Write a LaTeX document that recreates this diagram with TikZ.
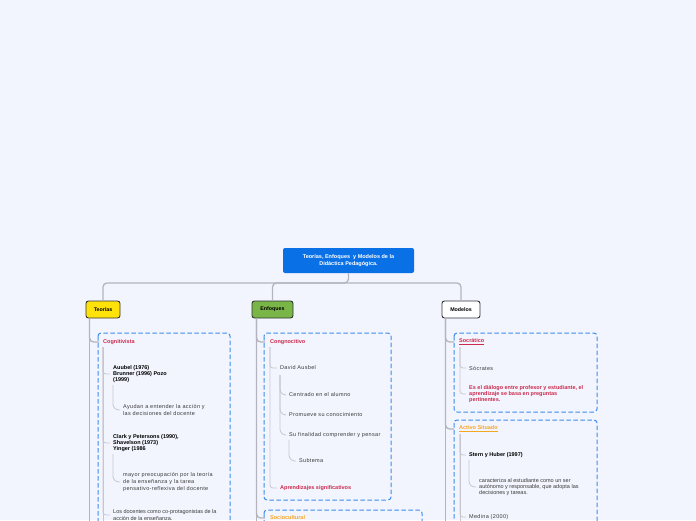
\documentclass[tikz,border=0pt]{standalone}
\usepackage{fontspec}
\setmainfont{Liberation Sans}
\newfontfamily\spacedfont[LetterSpace=6]{Liberation Sans}
\usetikzlibrary{positioning,calc}
\definecolor{paper}{HTML}{F3F5FE}
\definecolor{rootblue}{HTML}{0A70E6}
\definecolor{teoyellow}{HTML}{FFE20A}
\definecolor{enfgreen}{HTML}{7AB547}
\definecolor{crimson}{HTML}{CC2A4E}
\definecolor{amber}{HTML}{F5A623}
\definecolor{dashblue}{HTML}{3C8DEB}
\definecolor{trunkgrey}{HTML}{B4B4BE}
\definecolor{linkgrey}{HTML}{C6C6CE}
\definecolor{ink}{HTML}{3A3A3A}
\tikzset{
  % nodos
  root/.style={fill=rootblue,text=white,rounded corners=2pt,inner sep=0pt,
               minimum width=131pt,minimum height=25pt,align=center,
               font=\fontsize{5.5}{6.2}\selectfont\bfseries},
  topic/.style={draw=black!80,line width=0.9pt,rounded corners=2.5pt,inner sep=0pt,
                minimum height=17pt,font=\fontsize{5.3}{6}\selectfont\bfseries},
  txt/.style={anchor=west,inner xsep=3pt,inner ysep=0pt,align=left,text=ink,
              font=\spacedfont\fontsize{5.5}{6.6}\selectfont},
  txtn/.style={txt,font=\fontsize{5.5}{6.4}\selectfont},
  hd/.style={txt,text=black,font=\fontsize{5.5}{6.4}\selectfont\bfseries},
  grp/.style={draw=dashblue,line width=1pt,dash pattern=on 4.5pt off 2.5pt,
              rounded corners=3pt},
  % lineas
  trunk/.style={draw=trunkgrey,line width=1.3pt,rounded corners=4pt},
  link/.style={draw=linkgrey,line width=0.8pt,rounded corners=3pt},
  curl/.style={link,rounded corners=6pt},
}
\begin{document}
\begin{tikzpicture}[x=1pt,y=-1pt]
  \useasboundingbox (0,0) rectangle (696,520);
  \fill[paper] (0,0) rectangle (696,520);
  \clip (0,0) rectangle (696,520);
  % grupos
  \draw[grp] (98,333) rectangle (230,535);
  \draw[grp] (264,333) rectangle (391,500);
  \draw[grp] (264,510) rectangle (422,535);
  \draw[grp] (454,333) rectangle (597,412);
  \draw[grp] (454,420) rectangle (597,535);
  % raiz y ramas
  \node[root] (root) at (348.5,260.5) {Teorías, Enfoques\ \ y Modelos de la\\Didáctica Pedagógica.};
  \node[topic,fill=teoyellow,minimum width=34pt] (teo) at (103,309.5) {Teorías};
  \node[topic,fill=enfgreen,minimum width=41pt] (enf) at (272.5,309.5) {Enfoques};
  \node[topic,fill=white,minimum width=38pt] (mod) at (461,309.5) {Modelos};
  \coordinate (hub) at (348.5,283);
  \draw[trunk] (root) -- (hub) -| (teo);
  \draw[trunk] (hub) -| (enf);
  \draw[trunk] (hub) -| (mod);
  % Teorias
  \coordinate (teoT) at ($(teo.south west)+(4,0)$);
  \draw[trunk] (teoT) -- (teoT |- 0,535);
  \node[hd,text=crimson,inner xsep=4pt] (cog) at (99,342) {Cognitivista};
  \draw[trunk] (teoT) |- (cog.west);
  \coordinate (cogT) at (103,347);
  \draw[link] (cogT) -- (103,535);
  \node[hd] (aus) at (110,374) {Auubel (1976)\\Brunner (1996) Pozo\\(1999)};
  \node[txt] (ayu) at (120,410) {Ayudan a entender la acción y\\las decisiones del docente};
  \node[hd] (cla) at (110,443) {Clark y Petersons (1990),\\Shavelson (1973)\\Yinger (1986};
  \node[txt] (may) at (120,482) {mayor preocupación por la teoría\\de la enseñanza y la tarea\\pensativo-reflexiva del docente};
  \node[txtn] (doc) at (110,515) {Los docentes como co-protagonistas de la\\acción de la enseñanza.};
  \draw[link] (cogT) |- (aus.west);
  \draw[link] (cogT) |- (cla.west);
  \draw[link] (cogT) |- (doc.west);
  \draw[curl] ([xshift=3pt,yshift=-2pt]aus.south west) |- (ayu.west);
  \draw[curl] ([xshift=3pt,yshift=-2pt]cla.south west) |- (may.west);
  % Enfoques
  \coordinate (enfT) at ($(enf.south west)+(5,0)$);
  \draw[trunk] (enfT) -- (enfT |- 0,535);
  \node[hd,text=crimson,inner xsep=5pt] (cgn) at (265,342) {Congnocitivo};
  \node[hd,text=amber,inner xsep=5pt] (soc) at (265,518) {Sociocultural};
  \draw[trunk] (enfT) |- (cgn.west);
  \draw[trunk] (enfT) |- (soc.west);
  \coordinate (cgnT) at (270,347);
  \node[txt] (dav) at (277,368) {David Ausbel};
  \node[txt] (cen) at (286,395) {Centrado en el alumno};
  \node[txt] (pro) at (286,415) {Promueve su conocimiento};
  \node[txt] (fin) at (286,435) {Su finalidad comprender y pensar};
  \node[txt] (sub) at (296,461) {Subtema};
  \node[hd,text=crimson] (apr) at (277,488) {Aprendizajes significativos};
  \draw[link] (cgnT) |- (dav.west);
  \draw[link] (cgnT) |- (apr.west);
  \coordinate (davT) at (280,375);
  \draw[curl] (davT) |- (cen.west);
  \draw[curl] (davT) |- (pro.west);
  \draw[curl] (davT) |- (fin.west);
  \draw[curl] ([xshift=3pt,yshift=-2pt]fin.south west) |- (sub.west);
  % Modelos
  \coordinate (modT) at ($(mod.south west)+(4,0)$);
  \draw[trunk] (modT) -- (modT |- 0,535);
  \node[hd,text=crimson,inner xsep=5pt] (scr) at (454,342) {\underline{Socrático}};
  \node[hd,text=amber,inner xsep=5pt] (act) at (454,429) {\underline{Activo Situado}};
  \draw[trunk] (modT) |- (scr.west);
  \draw[trunk] (modT) |- (act.west);
  \coordinate (scrT) at (460,347);
  \node[txt] (sct) at (466,368) {Sócrates};
  \node[hd,text=crimson] (dia) at (466,394) {Es el diálogo entre profesor y estudiante, el\\aprendizaje se basa en preguntas\\pertinentes.};
  \draw[link] (scrT) |- (sct.west);
  \draw[link] (scrT) |- (dia.west);
  \coordinate (actT) at (460,434);
  \draw[link] (actT) -- (460,535);
  \node[hd] (ste) at (466,455) {Stern y Huber (1997)};
  \node[txtn] (car) at (476,487) {caracteriza al estudiante como un ser\\autónomo y responsable, que adopta las\\decisiones y tareas.};
  \node[txt] (med) at (466,517) {Medina (2000)};
  \draw[link] (actT) |- (ste.west);
  \draw[link] (actT) |- (med.west);
  \draw[curl] ([xshift=3pt,yshift=-2pt]ste.south west) |- (car.west);
\end{tikzpicture}
\end{document}
